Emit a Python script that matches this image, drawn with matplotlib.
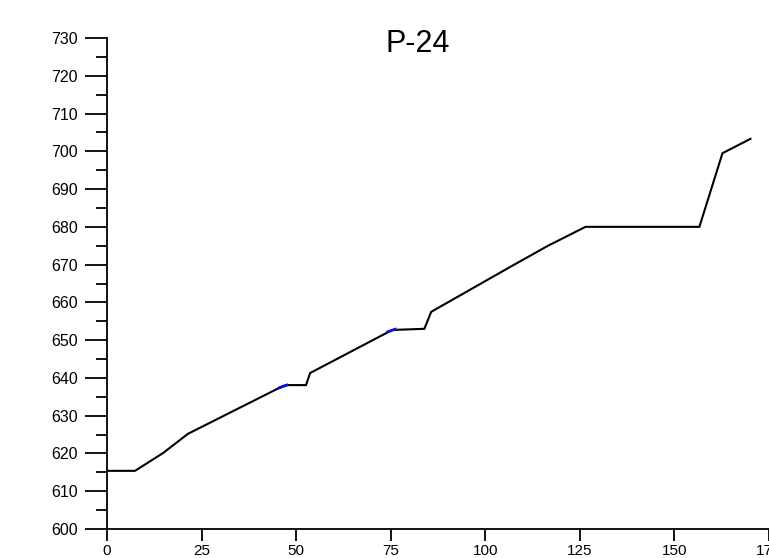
import matplotlib
matplotlib.use("Agg")
import matplotlib.pyplot as plt
from matplotlib.ticker import MultipleLocator

plt.rcParams['font.family'] = ['Liberation Sans', 'DejaVu Sans']

# profile distance and elevation
dist = [0, 7.4, 14.8, 21.4, 46.6, 47.6, 52.6, 53.7, 75.4, 83.9, 85.7,
        106.6, 116.4, 126.5, 156.6, 162.7, 170.1]
elev = [615.4, 615.4, 620.1, 625.2, 637.9, 638.1, 638.1, 641.3, 652.7,
        653.0, 657.5, 669.4, 674.9, 680.0, 680.0, 699.5, 703.3]

# short blue segments (markers along the profile)
blue1_x = [45.6, 47.6]
blue1_y = [637.4, 638.1]
blue2_x = [74.2, 76.2]
blue2_y = [652.2, 652.9]

title = "P-24"

fig = plt.figure(figsize=(7.69, 5.58), dpi=100)
ax = fig.add_axes([107/769, 29/558, 1 - 107/769, (529-38)/558])

ax.plot(dist, elev, color='black', lw=1.5, solid_joinstyle='miter', zorder=3)
ax.plot(blue1_x, blue1_y, color='#1010e0', lw=2.0, zorder=4)
ax.plot(blue2_x, blue2_y, color='#1010e0', lw=2.0, zorder=4)

ax.set_xlim(0, 175)
ax.set_ylim(600, 730)
ax.xaxis.set_major_locator(MultipleLocator(25))
ax.yaxis.set_major_locator(MultipleLocator(10))
ax.yaxis.set_minor_locator(MultipleLocator(5))

for s in ['top', 'right']:
    ax.spines[s].set_visible(False)
for s in ['left', 'bottom']:
    ax.spines[s].set_linewidth(1.3)

ax.tick_params(axis='y', which='major', direction='out', length=16, width=1.3,
               labelsize=11.5, pad=5)
ax.tick_params(axis='y', which='minor', direction='out', length=8, width=1.3)
ax.tick_params(axis='x', which='major', direction='out', length=8.5, width=1.3,
               labelsize=11, pad=2)

fig.text(418/769, 1 - 52/558, title, ha='center', va='baseline', fontsize=22)

fig.savefig("out.png", dpi=100)
